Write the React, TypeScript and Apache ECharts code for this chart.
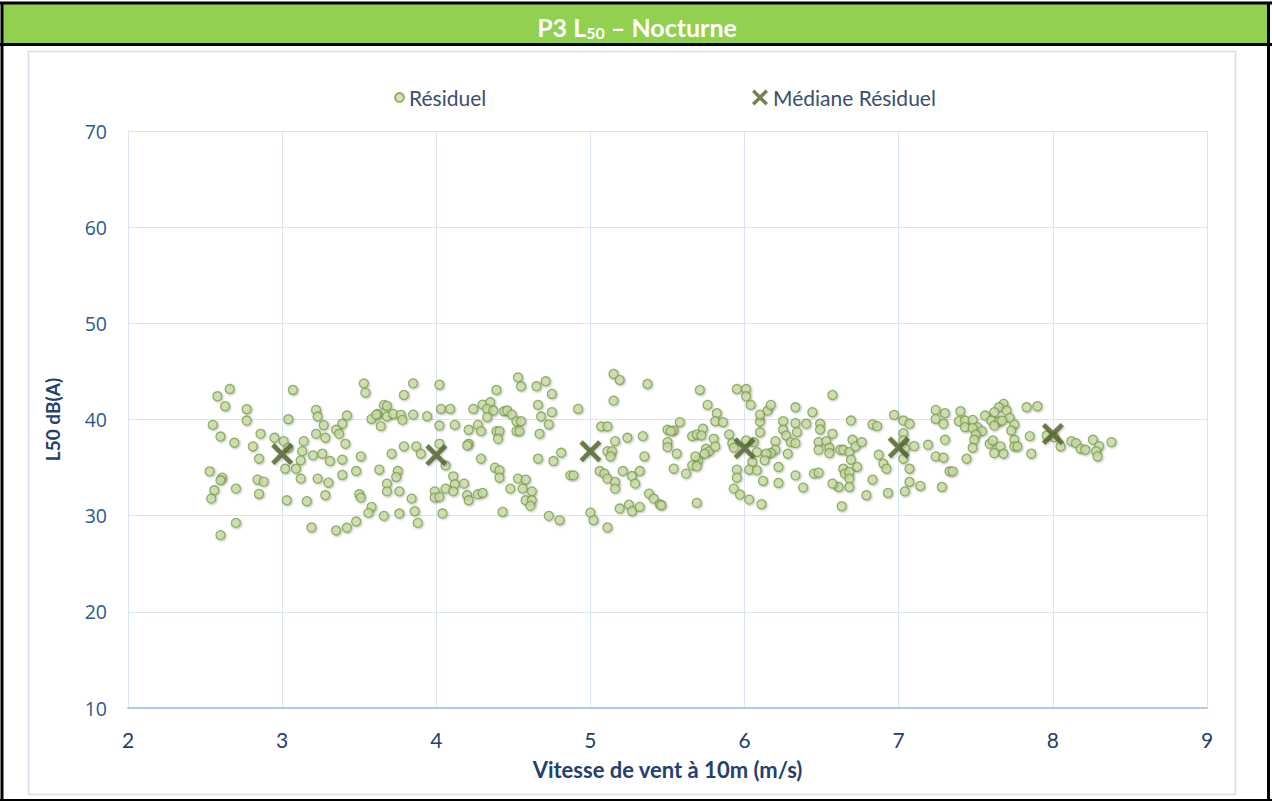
import React, { useEffect, useRef } from "react";
import * as echarts from "echarts";

const titleMain = "P3 L";
const titleSub = "50";
const titleTail = " – Nocturne";
const xAxisName = "Vitesse de vent à 10m (m/s)";
const yAxisName = "L50 dB(A)";
const seriesNames = ["Résiduel", "Médiane Résiduel"];

const residuel: [number, number][] = [
  [2.66,43.17],[2.58,42.41],[2.63,41.38],[2.77,41.07],[2.77,39.89],[2.55,39.44],[2.60,38.23],[2.69,37.58],[2.81,37.20],[2.86,38.51],
  [2.95,38.10],[3.01,37.75],[2.85,35.92],[2.53,34.61],[2.61,33.95],[2.60,33.68],[2.56,32.64],[2.70,32.81],[2.54,31.77],[2.84,33.74],
  [2.88,33.54],[2.85,32.26],[2.70,29.25],[2.60,27.98],[3.07,43.07],[3.04,40.03],[3.22,41.00],[3.23,40.31],[3.27,39.41],[3.42,40.41],
  [3.39,39.55],[3.35,38.93],[3.37,38.51],[3.41,37.47],[3.22,38.51],[3.28,38.10],[3.14,37.75],[3.04,37.06],[3.13,36.71],[3.12,35.75],
  [3.20,36.27],[3.26,36.44],[3.31,35.68],[3.39,35.82],[3.39,34.23],[3.30,33.43],[3.23,33.85],[3.12,33.85],[3.02,34.88],[3.09,34.88],
  [3.28,32.12],[3.03,31.60],[3.16,31.50],[3.19,28.77],[3.35,28.46],[3.42,28.74],
  [3.53,43.76],[3.54,42.79],[3.85,43.76],[3.79,42.55],[4.02,43.62],[4.39,43.07],[3.66,41.52],[3.68,41.41],[3.62,40.58],[3.58,40.06],
  [3.61,40.51],[3.68,40.31],[3.72,40.58],[3.77,40.48],[3.78,39.96],[3.85,40.51],[3.94,40.34],[3.64,39.31],[4.03,41.10],[4.09,41.10],
  [4.24,41.10],[4.30,41.55],[4.35,41.79],[4.33,41.10],[4.37,40.93],[4.33,40.24],[4.44,40.86],[4.02,39.37],[4.12,39.44],[4.21,38.93],
  [4.27,39.44],[4.29,38.79],[4.39,38.79],[4.41,38.79],[4.40,37.99],[3.79,37.20],[3.87,37.20],[3.90,36.44],[3.71,36.44],[3.51,36.16],
  [4.02,37.47],[4.21,37.47],[4.20,37.30],[4.29,35.92],[4.06,35.23],[4.38,34.99],[4.41,34.71],[4.41,33.95],[3.48,34.64],[3.63,34.78],
  [3.75,34.64],[3.74,34.02],[3.68,33.33],[3.68,32.53],[3.76,32.53],[4.11,34.09],[4.12,33.26],[4.18,33.33],[4.06,32.81],[3.99,32.53],
  [3.99,31.88],[4.02,31.95],[4.11,32.53],[4.20,32.12],[4.21,31.60],[4.27,32.22],[4.30,32.36],[3.50,32.22],[3.51,31.88],[3.58,30.91],
  [3.56,30.29],[3.84,31.77],[3.86,30.46],[3.76,30.22],[3.66,29.98],[3.48,29.39],[3.88,29.25],[4.04,30.22],[4.43,30.39],
  [4.53,44.38],[4.55,43.45],[4.65,43.45],[4.71,43.97],[4.75,42.66],[4.66,41.52],[4.68,40.31],[4.75,40.76],[4.46,40.93],[4.49,40.51],
  [4.52,39.82],[4.55,39.82],[4.73,39.48],[4.67,38.51],[4.52,38.79],[4.54,38.79],[4.92,41.10],[5.15,44.73],[5.19,44.11],[5.37,43.69],
  [5.15,41.96],[5.07,39.27],[5.11,39.27],[5.16,37.75],[5.24,38.10],[5.34,38.27],[5.11,36.71],[5.14,36.71],[5.13,36.16],[5.35,36.16],
  [4.81,36.54],[4.76,35.68],[4.66,35.92],[4.53,33.85],[4.58,33.74],[4.48,32.81],[4.56,32.81],[4.62,32.53],[4.58,31.60],[4.62,31.60],
  [4.61,31.02],[4.87,34.19],[4.89,34.19],[5.06,34.64],[5.09,34.37],[5.11,33.85],[5.16,33.50],[5.16,32.81],[5.21,34.64],[5.27,34.12],
  [5.32,34.64],[5.29,33.33],[5.38,32.29],[5.41,31.77],[5.45,31.19],[4.73,29.98],[4.80,29.53],[5.00,30.32],[5.02,29.53],[5.11,28.77],
  [5.19,30.74],[5.25,31.15],[5.27,30.46],[5.32,30.91],
  [5.71,43.07],[5.95,43.17],[6.01,43.17],[6.01,42.41],[6.04,41.52],[5.76,41.52],[5.82,40.65],[5.81,39.82],[5.86,39.72],[5.58,39.72],
  [5.50,38.93],[5.54,38.86],[5.52,38.79],[5.66,38.27],[5.69,38.44],[5.73,39.03],[5.72,38.34],[5.80,37.99],[5.90,38.44],[5.50,37.65],
  [5.50,37.13],[5.56,36.44],[5.75,36.96],[5.77,36.68],[5.74,36.44],[5.81,37.20],[5.70,35.75],[5.68,36.16],[5.66,35.23],[5.69,35.13],
  [5.62,34.37],[5.54,34.88],[5.46,31.08],[5.69,31.33],[5.92,37.54],[5.93,37.06],[6.01,37.82],[6.06,37.65],[6.08,36.61],[6.05,35.58],
  [5.95,34.78],[5.95,33.95],[6.03,34.78],[6.08,34.71],[5.93,32.81],[5.97,32.19],[6.03,31.67],[6.11,31.19],[6.12,33.61],[6.10,38.68],
  [6.10,39.79],[6.10,40.51],[6.15,40.93],[6.17,41.52],[6.25,39.82],[6.33,41.27],[6.44,40.76],[6.25,38.93],[6.27,38.34],[6.33,39.62],
  [6.34,38.68],[6.40,39.55],[6.30,37.65],[6.33,37.54],[6.20,37.75],[6.20,36.85],[6.17,36.51],[6.14,36.44],[6.13,35.75],[6.28,36.44],
  [6.22,35.06],[6.33,34.19],[6.22,33.40],[6.38,32.92],[6.45,34.37],
  [6.57,42.55],[6.49,39.55],[6.49,38.96],[6.57,38.51],[6.48,37.65],[6.53,37.75],[6.48,36.85],[6.55,37.06],[6.55,36.51],[6.62,36.85],
  [6.64,36.85],[6.68,36.61],[6.69,35.82],[6.70,37.89],[6.72,37.20],[6.76,37.65],[6.73,35.06],[6.64,34.88],[6.65,34.37],[6.68,34.54],
  [6.68,33.85],[6.68,32.98],[6.61,32.98],[6.57,33.33],[6.48,34.47],[6.69,39.89],[6.83,39.48],[6.86,39.31],[6.97,40.48],[7.03,39.89],
  [7.07,39.55],[7.03,38.58],[7.03,37.82],[7.04,36.96],[7.03,35.92],[7.10,37.23],[7.19,37.37],[7.07,34.88],[7.07,33.50],[7.04,32.53],
  [7.14,33.09],[7.28,32.98],[6.87,36.33],[6.90,35.40],[6.92,34.88],[6.83,33.74],[6.93,32.36],[6.79,32.12],[6.63,30.98],[7.24,41.00],
  [7.30,40.65],[7.24,40.06],[7.29,39.55],[7.40,40.86],[7.39,39.82],[7.43,39.89],[7.43,39.20],[7.30,37.89],[7.24,36.16],[7.29,36.02],
  [7.33,34.61],[7.35,34.61],[7.44,35.92],
  [7.68,41.62],[7.65,41.27],[7.70,40.93],[7.62,40.76],[7.56,40.41],[7.60,39.89],[7.65,39.79],[7.72,40.17],[7.48,39.96],[7.51,39.20],
  [7.48,39.10],[7.54,38.79],[7.62,39.37],[7.67,39.89],[7.75,39.48],[7.73,38.86],[7.50,38.44],[7.49,37.89],[7.59,37.47],[7.61,37.82],
  [7.66,37.20],[7.75,37.89],[7.75,37.20],[7.77,37.20],[7.85,38.27],[7.48,37.06],[7.62,36.51],[7.68,36.44],[7.86,36.44],[7.83,41.27],
  [7.90,41.38],[7.96,38.34],[8.01,38.17],[8.05,37.20],[8.12,37.75],[8.15,37.54],[8.18,36.96],[8.21,36.85],[8.26,37.89],[8.30,37.23],
  [8.28,36.71],[8.29,36.16],[8.38,37.65]
];

const medianWind = [3, 4, 5, 6, 7, 8];
const medianLevel = [36.4, 36.3, 36.7, 37.0, 37.1, 38.5];

const X_PATH = "path://M0,1.5 L1.5,0 L5,3.5 L8.5,0 L10,1.5 L6.5,5 L10,8.5 L8.5,10 L5,6.5 L1.5,10 L0,8.5 L3.5,5 Z";
const narrow = "Lato, 'Liberation Sans', sans-serif";
const round = "'Open Sans', 'Noto Sans', sans-serif";

export default function App() {
  const ref = useRef<HTMLDivElement>(null);
  useEffect(() => {
    document.body.style.margin = "0";
    const chart = echarts.init(ref.current!, null, { renderer: "svg" });
    chart.setOption({
      animation: false,
      backgroundColor: "#ffffff",
      graphic: [
        { type: "rect", z: -10, shape: { x: 3, y: 4, width: 1265, height: 39 }, style: { fill: "#92D050" } },
        { type: "line", z: -9, shape: { x1: 0, y1: 3, x2: 1272, y2: 3 }, style: { stroke: "#000", lineWidth: 3 } },
        { type: "line", z: -9, shape: { x1: 0, y1: 44.5, x2: 1272, y2: 44.5 }, style: { stroke: "#000", lineWidth: 3 } },
        { type: "line", z: -9, shape: { x1: 2, y1: 2, x2: 2, y2: 801 }, style: { stroke: "#000", lineWidth: 3 } },
        { type: "line", z: -9, shape: { x1: 1268.5, y1: 2, x2: 1268.5, y2: 801 }, style: { stroke: "#000", lineWidth: 3 } },
        { type: "line", z: -9, shape: { x1: 0, y1: 800, x2: 1272, y2: 800 }, style: { stroke: "#000", lineWidth: 2 } },
        { type: "rect", z: -9, shape: { x: 28.5, y: 51.5, width: 1207, height: 743 }, style: { fill: "none", stroke: "#D6E0EC", lineWidth: 1.5 } },
        {
          type: "text",
          x: 637,
          y: 27,
          style: {
            text: "{a|" + titleMain + "}{s|" + titleSub + "}{a|" + titleTail + "}",
            align: "center",
            verticalAlign: "middle",
            rich: {
              a: { fontSize: 25, fontWeight: "bold", fill: "#ffffff", fontFamily: narrow },
              s: { fontSize: 16, fontWeight: "bold", fill: "#ffffff", fontFamily: narrow, padding: [11, 0, 0, 0] }
            }
          }
        }
      ],
      legend: [
        {
          data: [{ name: seriesNames[0], icon: "circle" }],
          left: 389,
          top: 82,
          itemWidth: 9,
          itemHeight: 9,
          itemGap: 6,
          textStyle: { fontSize: 21, color: "#3B4E6E", fontFamily: narrow }
        },
        {
          data: [{ name: seriesNames[1], icon: X_PATH }],
          left: 747,
          top: 82,
          itemWidth: 16,
          itemHeight: 16,
          textStyle: { fontSize: 21, color: "#3B4E6E", fontFamily: narrow }
        }
      ],
      grid: { left: 128, right: 65, top: 131, bottom: 93, containLabel: false },
      xAxis: {
        type: "value",
        min: 2,
        max: 9,
        interval: 1,
        name: xAxisName,
        nameLocation: "middle",
        nameGap: 50,
        nameTextStyle: { fontSize: 22, fontWeight: "bold", color: "#23406E", fontFamily: narrow },
        axisLine: { show: true, lineStyle: { color: "#B4C8E4", width: 2 } },
        axisTick: { show: false },
        axisLabel: { margin: 21, fontSize: 21, color: "#23406E", fontFamily: narrow },
        splitLine: { show: true, lineStyle: { color: "#D8E5F5", width: 1 } }
      },
      yAxis: {
        type: "value",
        min: 10,
        max: 70,
        interval: 10,
        name: yAxisName,
        nameLocation: "middle",
        nameGap: 66,
        nameTextStyle: { fontSize: 19, fontWeight: "bold", color: "#23406E", fontFamily: narrow },
        axisLine: { show: true, lineStyle: { color: "#D8E5F5", width: 1 } },
        axisTick: { show: false },
        axisLabel: { margin: 21, fontSize: 19.5, color: "#2E5A8E", fontFamily: round },
        splitLine: { show: true, lineStyle: { color: "#D8E5F5", width: 1 } }
      },
      series: [
        {
          name: seriesNames[0],
          type: "scatter",
          data: residuel,
          symbol: "circle",
          symbolSize: 9,
          itemStyle: {
            color: "#C9DDA6",
            borderColor: "#7F9E4C",
            borderWidth: 1.3,
            shadowBlur: 2,
            shadowOffsetX: 1,
            shadowOffsetY: 1,
            shadowColor: "rgba(0,0,0,0.3)"
          },
          z: 2
        },
        {
          name: seriesNames[1],
          type: "scatter",
          data: medianWind.map((w, i) => [w, medianLevel[i]]),
          symbol: X_PATH,
          symbolSize: 22,
          itemStyle: { color: "#4F6228", shadowBlur: 2, shadowOffsetX: 1, shadowOffsetY: 1, shadowColor: "rgba(0,0,0,0.3)" },
          z: 3
        }
      ]
    });
    return () => chart.dispose();
  }, []);
  return <div ref={ref} style={{ width: 1272, height: 801 }} />;
}
